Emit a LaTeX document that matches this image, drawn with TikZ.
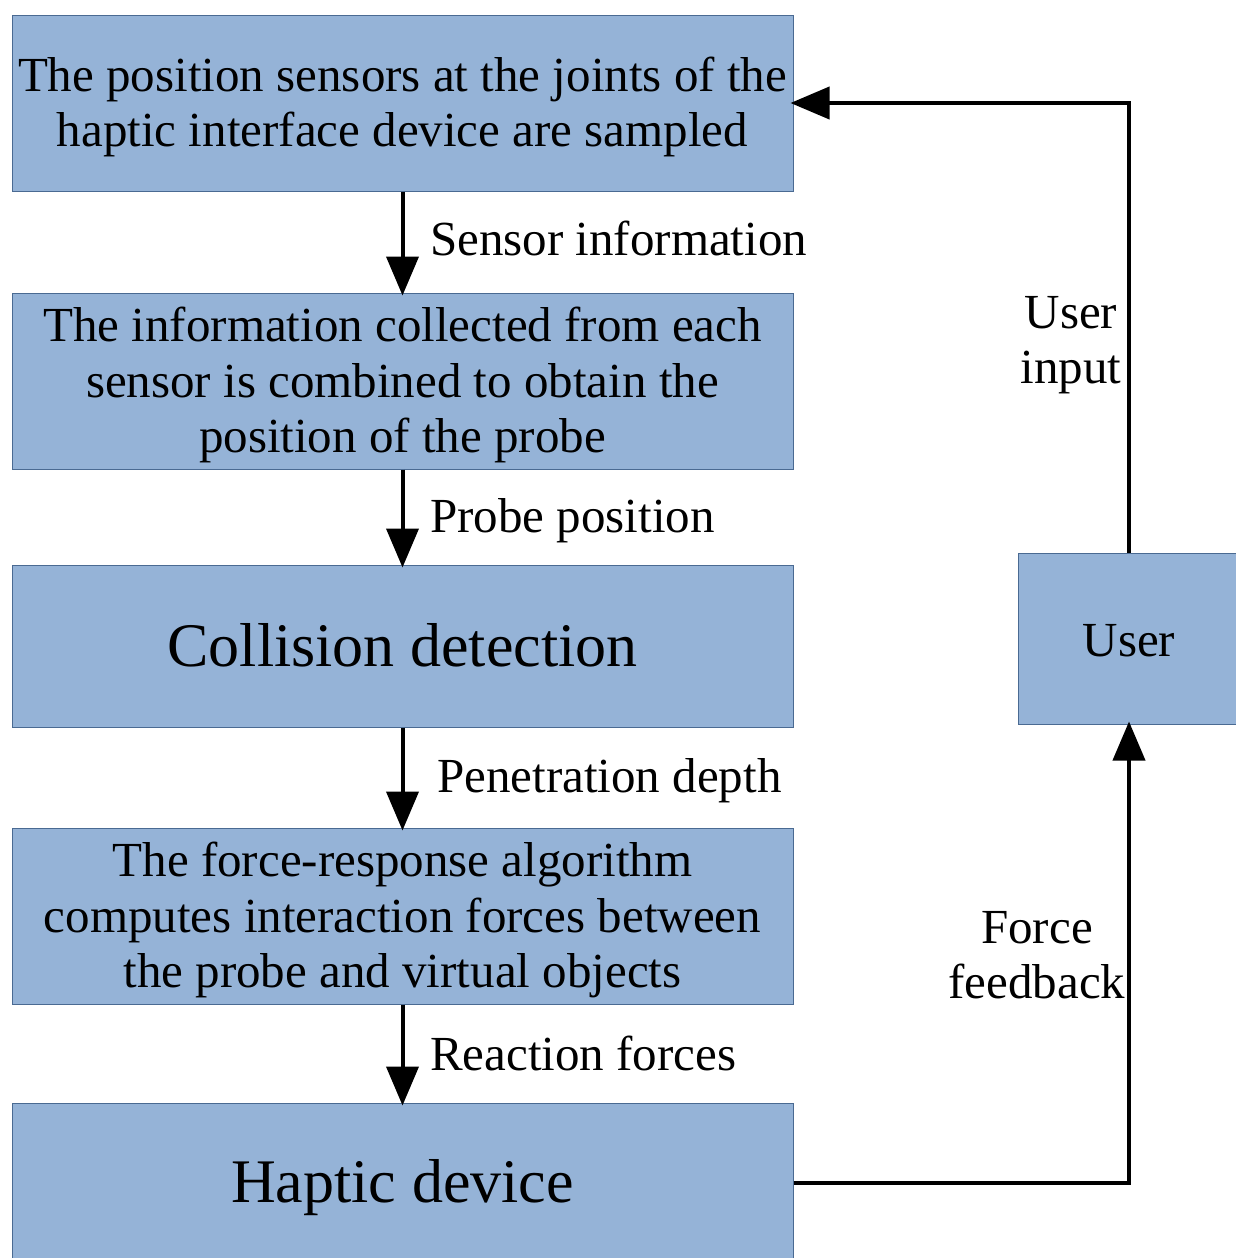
\documentclass[tikz,border=0pt]{standalone}
\usepackage{fontspec}
\setmainfont{Liberation Serif}
\usetikzlibrary{arrows.meta}
\definecolor{boxfill}{HTML}{95B3D7}
\definecolor{boxedge}{HTML}{4A6A92}
\tikzset{
  box/.style={draw=boxedge, line width=1pt, fill=boxfill, inner sep=0pt},
  boxtext/.style={align=center, inner sep=0pt, font=\fontsize{49}{55.5}\selectfont},
  bigtext/.style={boxtext, font=\fontsize{62}{70}\selectfont},
  arr/.style={line width=4pt, -{Triangle[length=39pt,width=32pt]}, shorten >=-3pt},
  lbl/.style={inner sep=0pt, font=\fontsize{49}{55.5}\selectfont},
}
\begin{document}
\begin{tikzpicture}[x=1pt,y=-1pt]
\useasboundingbox (0,0) rectangle (1235,1258);
\node[box, minimum width=781pt, minimum height=176pt,
  label={[boxtext, yshift=-4pt]center:{The position sensors at the joints of the\\haptic interface device are sampled}}] (b1) at (402.5,103) {};
\node[box, minimum width=781pt, minimum height=176pt,
  label={[boxtext, yshift=-4pt]center:{The information collected from each\\sensor is combined to obtain the\\position of the probe}}] (b2) at (402.5,381) {};
\node[box, minimum width=781pt, minimum height=162pt,
  label={[bigtext, yshift=1pt]center:{Collision detection}}] (b3) at (402.5,646) {};
\node[box, minimum width=781pt, minimum height=176pt,
  label={[boxtext, yshift=-4pt]center:{The force-response algorithm\\computes interaction forces between\\the probe and virtual objects}}] (b4) at (402.5,916) {};
\node[box, minimum width=781pt, minimum height=160pt,
  label={[bigtext, yshift=-5pt]center:{Haptic device}}] (b5) at (402.5,1183) {};
\node[box, minimum width=222pt, minimum height=171pt,
  label={[boxtext, yshift=-2pt]center:{User}}] (user) at (1129,638.5) {};

\draw[arr] (b1) -- (b2);
\draw[arr] (b2) -- (b3);
\draw[arr] (b3) -- (b4);
\draw[arr] (b4) -- (b5);
\draw[arr] (user.north) |- (b1.east);
\draw[arr] (b5.east) -| (user.south);

\node[lbl, anchor=base west] (l1) at (430,255) {Sensor information};
\node[lbl, anchor=base west] (l2) at (430,532) {Probe position};
\node[lbl, anchor=base west] (l3) at (437,792) {Penetration depth};
\node[lbl, anchor=base west] (l4) at (430,1070) {Reaction forces};
\node[lbl, align=center] (l5) at (1071,345) {User\\input};
\node[lbl, align=center] (l6) at (1037,955) {Force\\feedback};
\end{tikzpicture}
\end{document}
